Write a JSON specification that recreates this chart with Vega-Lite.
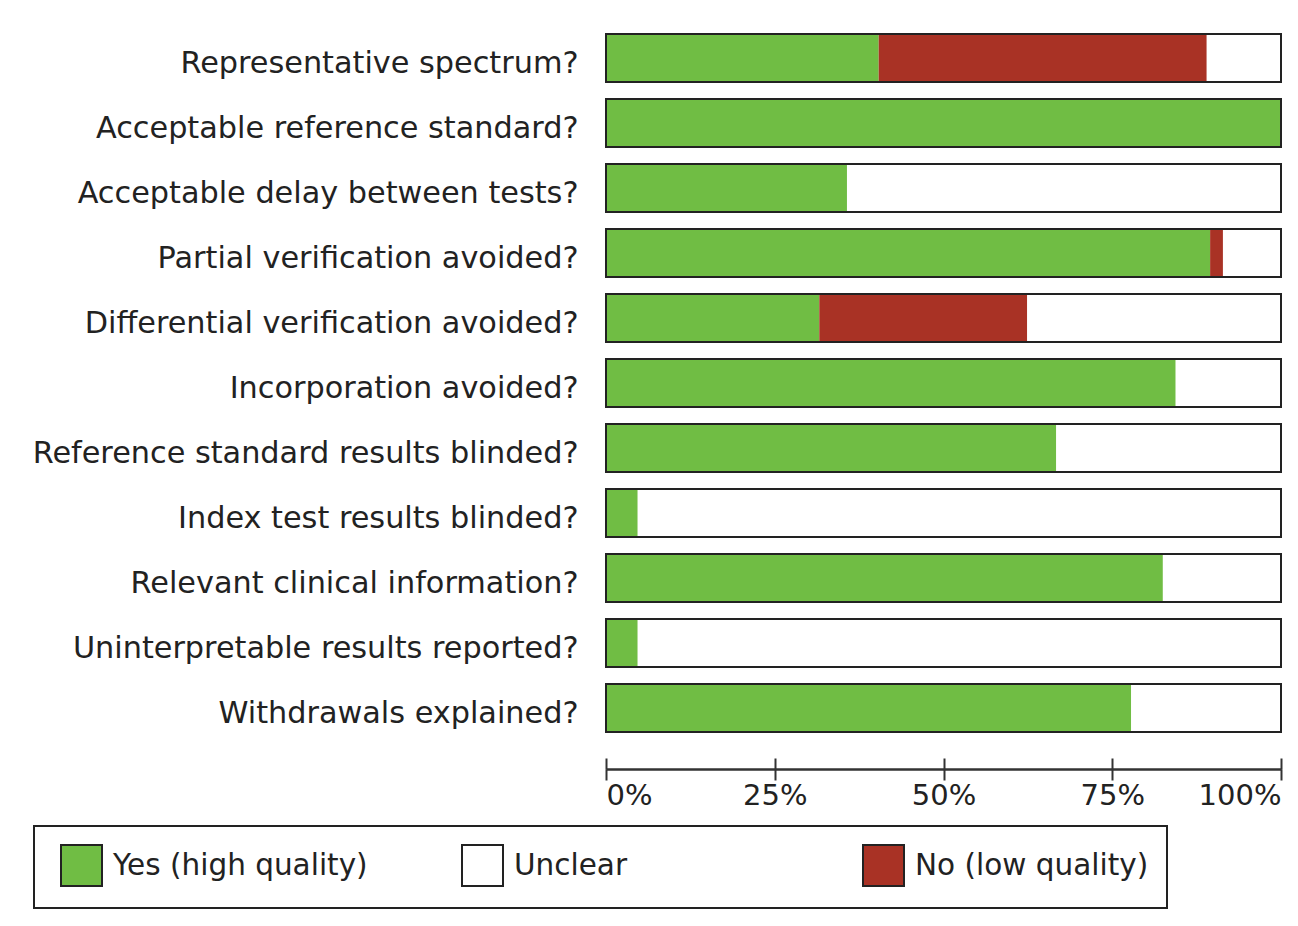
{
  "$schema": "https://vega.github.io/schema/vega-lite/v6.json",
  "width": 675,
  "height": 715,
  "autosize": {"type": "none"},
  "padding": {"left": 606, "top": 25.5, "right": 17, "bottom": 185.5},
  "background": "white",
  "config": {"view": {"stroke": null}, "font": "DejaVu Sans"},
  "data": {
    "values": [
      {"question": "Representative spectrum?", "rating": "Yes (high quality)", "rank": 1, "pct": 40.4},
      {"question": "Representative spectrum?", "rating": "No (low quality)", "rank": 2, "pct": 48.6},
      {"question": "Representative spectrum?", "rating": "Unclear", "rank": 3, "pct": 11.0},
      {"question": "Acceptable reference standard?", "rating": "Yes (high quality)", "rank": 1, "pct": 100},
      {"question": "Acceptable delay between tests?", "rating": "Yes (high quality)", "rank": 1, "pct": 35.7},
      {"question": "Acceptable delay between tests?", "rating": "Unclear", "rank": 3, "pct": 64.3},
      {"question": "Partial verification avoided?", "rating": "Yes (high quality)", "rank": 1, "pct": 89.5},
      {"question": "Partial verification avoided?", "rating": "No (low quality)", "rank": 2, "pct": 1.9},
      {"question": "Partial verification avoided?", "rating": "Unclear", "rank": 3, "pct": 8.6},
      {"question": "Differential verification avoided?", "rating": "Yes (high quality)", "rank": 1, "pct": 31.6},
      {"question": "Differential verification avoided?", "rating": "No (low quality)", "rank": 2, "pct": 30.8},
      {"question": "Differential verification avoided?", "rating": "Unclear", "rank": 3, "pct": 37.6},
      {"question": "Incorporation avoided?", "rating": "Yes (high quality)", "rank": 1, "pct": 84.4},
      {"question": "Incorporation avoided?", "rating": "Unclear", "rank": 3, "pct": 15.6},
      {"question": "Reference standard results blinded?", "rating": "Yes (high quality)", "rank": 1, "pct": 66.7},
      {"question": "Reference standard results blinded?", "rating": "Unclear", "rank": 3, "pct": 33.3},
      {"question": "Index test results blinded?", "rating": "Yes (high quality)", "rank": 1, "pct": 4.7},
      {"question": "Index test results blinded?", "rating": "Unclear", "rank": 3, "pct": 95.3},
      {"question": "Relevant clinical information?", "rating": "Yes (high quality)", "rank": 1, "pct": 82.5},
      {"question": "Relevant clinical information?", "rating": "Unclear", "rank": 3, "pct": 17.5},
      {"question": "Uninterpretable results reported?", "rating": "Yes (high quality)", "rank": 1, "pct": 4.7},
      {"question": "Uninterpretable results reported?", "rating": "Unclear", "rank": 3, "pct": 95.3},
      {"question": "Withdrawals explained?", "rating": "Yes (high quality)", "rank": 1, "pct": 77.8},
      {"question": "Withdrawals explained?", "rating": "Unclear", "rank": 3, "pct": 22.2}
    ]
  },
  "layer": [
    {
      "mark": {"type": "bar"},
      "encoding": {
        "y": {
          "field": "question", "type": "nominal",
          "sort": ["Representative spectrum?", "Acceptable reference standard?", "Acceptable delay between tests?", "Partial verification avoided?", "Differential verification avoided?", "Incorporation avoided?", "Reference standard results blinded?", "Index test results blinded?", "Relevant clinical information?", "Uninterpretable results reported?", "Withdrawals explained?"],
          "scale": {"paddingInner": 0.26, "paddingOuter": 0.13},
          "axis": {"title": null, "domain": false, "ticks": false, "labelPadding": 28, "labelOffset": 6, "labelFontSize": 30.3, "labelColor": "#222", "labelLimit": 0, "labelFont": "DejaVu Sans"}
        },
        "x": {
          "field": "pct", "type": "quantitative", "stack": "zero",
          "scale": {"domain": [0, 100], "nice": false},
          "axis": {"title": null, "orient": "bottom", "values": [0, 25, 50, 75, 100], "labelExpr": "datum.value + '%'", "offset": 28.5, "grid": false, "tickSize": 11, "tickWidth": 2, "tickColor": "#333", "domainColor": "#333", "domainWidth": 2, "labelFontSize": 29, "labelColor": "#222", "labelFlush": true, "labelPadding": 1, "labelFont": "DejaVu Sans"}
        },
        "color": {
          "field": "rating", "type": "nominal",
          "scale": {"domain": ["Yes (high quality)", "Unclear", "No (low quality)"], "range": ["#70BD44", "#FFFFFF", "#A93225"]},
          "legend": {"orient": "none", "legendX": -572, "legendY": 800.5, "direction": "horizontal", "columns": 3, "gridAlign": "all", "columnPadding": 85, "title": null, "padding": 18, "strokeColor": "#222", "fillColor": "white", "symbolType": "square", "symbolSize": 1681, "symbolStrokeColor": "#222", "symbolStrokeWidth": 2, "symbolOffset": 8, "labelOffset": 10, "labelFontSize": 29.5, "labelColor": "#222", "labelLimit": 0, "labelFont": "DejaVu Sans",
            "encode": {"legend": {"update": {"strokeWidth": {"value": 2}}}}}
        },
        "order": {"field": "rank", "type": "quantitative"}
      }
    },
    {
      "transform": [{"filter": "datum.rank == 1"}],
      "mark": {"type": "bar", "fill": "transparent", "stroke": "#222", "strokeWidth": 2},
      "encoding": {
        "y": {
          "field": "question", "type": "nominal",
          "sort": ["Representative spectrum?", "Acceptable reference standard?", "Acceptable delay between tests?", "Partial verification avoided?", "Differential verification avoided?", "Incorporation avoided?", "Reference standard results blinded?", "Index test results blinded?", "Relevant clinical information?", "Uninterpretable results reported?", "Withdrawals explained?"]
        },
        "x": {"datum": 0, "type": "quantitative", "axis": {"title": null, "orient": "bottom", "values": [0, 25, 50, 75, 100], "labels": false, "offset": 28.5, "grid": false, "tickSize": -11, "tickWidth": 2, "tickColor": "#333", "domainColor": "#333", "domainWidth": 2}},
        "x2": {"datum": 100}
      }
    }
  ],
  "resolve": {"axis": {"x": "independent"}}
}
